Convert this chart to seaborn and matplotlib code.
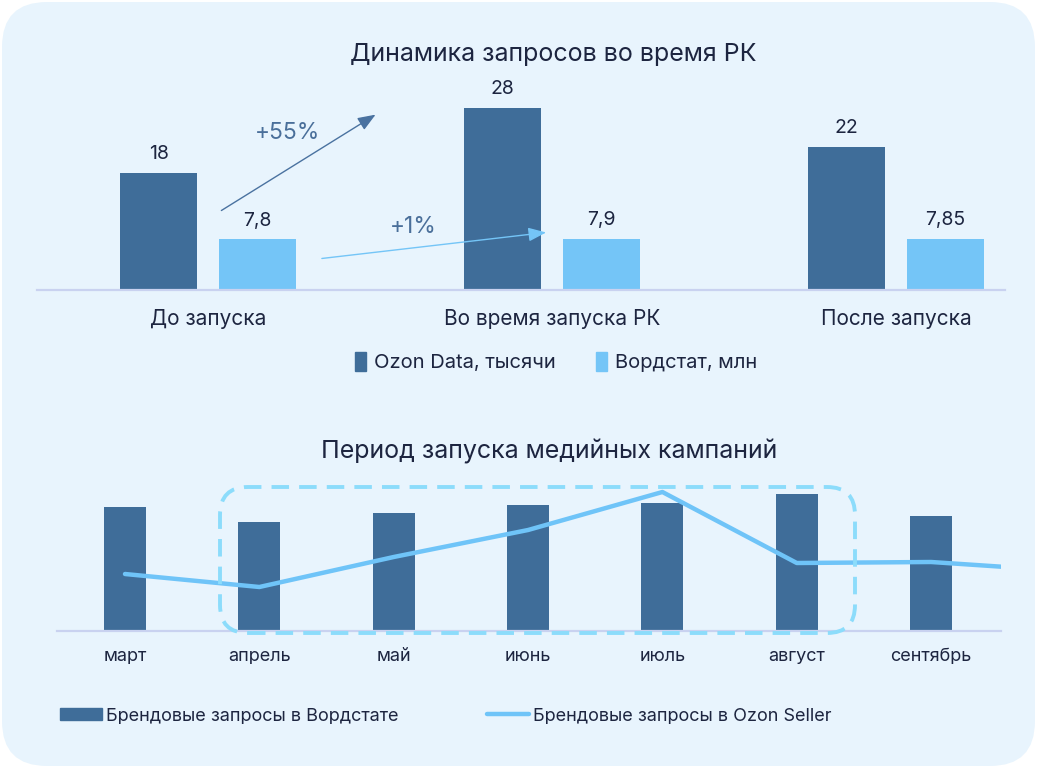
import matplotlib
matplotlib.use("Agg")
import matplotlib.pyplot as plt
import numpy as np
import pandas as pd
import seaborn as sns
from matplotlib.patches import FancyBboxPatch, Patch
from matplotlib.lines import Line2D

# --- top chart data ---
stages = ["До запуска", "Во время запуска РК", "После запуска"]
ozon_data = [18, 28, 22]          # Ozon Data, тысячи
wordstat = [7.8, 7.9, 7.85]       # Вордстат, млн
series_names = ["Ozon Data, тысячи", "Вордстат, млн"]
growth_labels = ["+55%", "+1%"]

# --- bottom chart data ---
months = ["март", "апрель", "май", "июнь", "июль", "август", "сентябрь"]
wordstat_brand = [124, 109, 118, 126, 128, 137, 115]
ozon_seller_brand = [2.85, 2.2, 3.7, 5.05, 6.95, 3.4, 3.45, 3.0]
bottom_names = ["Брендовые запросы в Вордстате", "Брендовые запросы в Ozon Seller"]

DARK = "#3f6d99"
LIGHT = "#74c5f7"
LINE = "#6fc4f8"
TEXT = "#1d2540"
BASE = "#c9d2f0"
BG = "#e8f4fd"

sns.set_theme(style="white")
plt.rcParams["font.family"] = ["Inter", "DejaVu Sans"]

fig = plt.figure(figsize=(10.4, 7.68), dpi=100, facecolor="white")
fig.add_artist(FancyBboxPatch((0.02, 0.02), 10.33, 7.64,
                              boxstyle="round,pad=0,rounding_size=0.45",
                              transform=fig.dpi_scale_trans,
                              facecolor=BG, edgecolor="none", zorder=-10))

# ---------------- top chart ----------------
ax = fig.add_axes([0.0356, 0.6224, 0.9308, 0.2878])
ax.set_facecolor("none")
top_df = pd.DataFrame({
    "stage": stages * 2,
    "value": ozon_data + wordstat,
    "series": [series_names[0]] * 3 + [series_names[1]] * 3,
})
sns.barplot(data=top_df, x="stage", y="value", hue="series", order=stages,
            hue_order=series_names, palette=[DARK, LIGHT], width=0.572, gap=0.22,
            saturation=1, linewidth=0, legend=False, ax=ax)
for container in ax.containers:
    ax.bar_label(container,
                 labels=[f"{b.get_height():g}".replace(".", ",") for b in container],
                 padding=7, fontsize=14, color=TEXT)
ax.set_xlim(-0.497, 2.317)
ax.set_ylim(0, 34)
ax.set_yticks([])
ax.set_xlabel("")
ax.set_ylabel("")
ax.tick_params(axis="x", length=0, pad=14, labelsize=15, labelcolor=TEXT)
for side in ["top", "right", "left"]:
    ax.spines[side].set_visible(False)
ax.spines["bottom"].set_color(BASE)
ax.spines["bottom"].set_linewidth(1.6)

ax.annotate("", xy=(0.494, 27.2), xytext=(0.032, 12.0),
            arrowprops=dict(arrowstyle="-|>,head_length=0.9,head_width=0.35",
                            color="#4a72a0", lw=1.0))
ax.text(0.23, 24.2, growth_labels[0], ha="center", va="center", fontsize=16.5, color="#4a6f9a")
ax.annotate("", xy=(0.991, 8.9), xytext=(0.323, 4.8),
            arrowprops=dict(arrowstyle="-|>,head_length=0.9,head_width=0.35",
                            color=LIGHT, lw=1.0))
ax.text(0.596, 9.7, growth_labels[1], ha="center", va="center", fontsize=16.5, color="#4a6f9a")

fig.text(553 / 1040, 1 - 55 / 768, "Динамика запросов во время РК",
         ha="center", va="center", fontsize=18, color=TEXT)
fig.legend(handles=[Patch(color=DARK), Patch(color=LIGHT)], labels=series_names,
           loc="center", bbox_to_anchor=(556 / 1040, 1 - 362 / 768), ncol=2,
           frameon=False, fontsize=14.5, handlelength=0.55, handleheight=1.1,
           handletextpad=0.4, columnspacing=2.0, labelcolor=TEXT)

# ---------------- bottom chart ----------------
ax2 = fig.add_axes([57 / 1040, 1 - 631 / 768, 944 / 1040, 150 / 768])
ax2.set_facecolor("none")
sns.barplot(x=months, y=wordstat_brand, color=DARK, saturation=1, width=0.313,
            linewidth=0, ax=ax2)
ax2.set_ylim(0, 150)
ax2.set_yticks([])
ax2.set_xlim(-0.506, 6.52)
ax2.tick_params(axis="x", length=0, pad=12, labelsize=13, labelcolor=TEXT)
for side in ["top", "right", "left"]:
    ax2.spines[side].set_visible(False)
ax2.spines["bottom"].set_color(BASE)
ax2.spines["bottom"].set_linewidth(1.6)

ax3 = ax2.twinx()
sns.lineplot(x=np.arange(len(ozon_seller_brand)), y=ozon_seller_brand, color=LINE,
             linewidth=3.2, solid_capstyle="round", ax=ax3)
ax3.set_ylim(0, 7.5)
ax3.set_xlim(-0.506, 6.52)
ax3.set_yticks([])
ax3.set_ylabel("")
for side in ["top", "right", "left", "bottom"]:
    ax3.spines[side].set_visible(False)

# campaign period frame
fig.add_artist(FancyBboxPatch((2.20, 1.35), 6.35, 1.46,
                              boxstyle="round,pad=0,rounding_size=0.28",
                              transform=fig.dpi_scale_trans, facecolor="none",
                              edgecolor="#8cdcfb", linewidth=2.8,
                              linestyle=(0, (4.5, 2.6)), zorder=5))

fig.text(549 / 1040, 1 - 452 / 768, "Период запуска медийных кампаний",
         ha="center", va="center", fontsize=18, color=TEXT)
fig.legend(handles=[Patch(color=DARK), Line2D([], [], color=LINE, lw=3.2)],
           labels=bottom_names, loc="center left",
           bbox_to_anchor=(44 / 1040, 1 - 716 / 768), ncol=2, frameon=False,
           fontsize=13, handlelength=2.3, handleheight=0.6, handletextpad=0.25,
           columnspacing=4.9, labelcolor=TEXT)

fig.savefig("out.png", dpi=100, facecolor="white")
